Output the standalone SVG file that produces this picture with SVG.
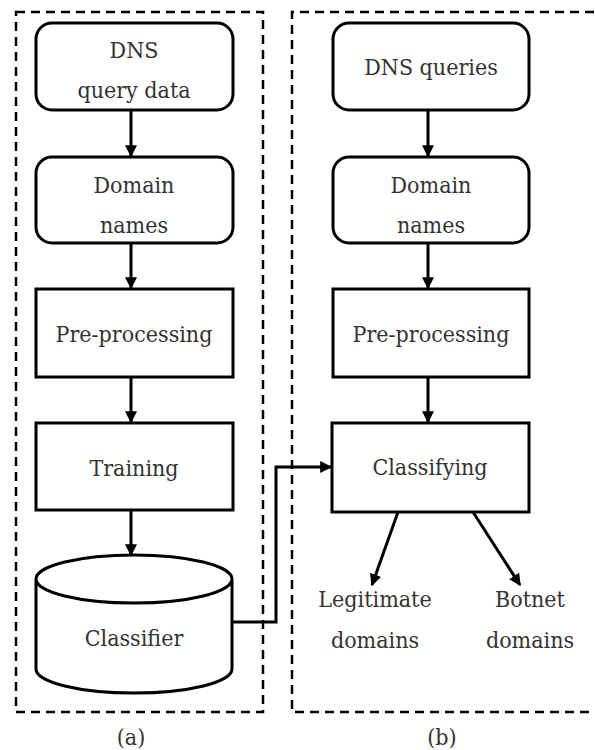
<svg xmlns="http://www.w3.org/2000/svg" width="595" height="750" viewBox="0 0 595 750">
<defs>
<style>
.box{fill:#fff;stroke:#000;stroke-width:3}
.dash{fill:none;stroke:#000;stroke-width:2.5;stroke-dasharray:9 6}
.ln{fill:none;stroke:#000;stroke-width:3}
.t{font-family:'DejaVu Serif',serif;font-stretch:condensed;font-size:23px;fill:#333;text-anchor:middle}
</style>
<marker id="ah" viewBox="0 0 10 10" refX="9" refY="5" markerWidth="4" markerHeight="4" orient="auto" markerUnits="strokeWidth">
<path d="M0,0 L10,5 L0,10 z" fill="#000"/>
</marker>
</defs>
<rect width="595" height="750" fill="#fff"/>
<g id="panel-a"><rect class="dash" x="16" y="12" width="247" height="700"/><text class="t" x="131" y="745">(a)</text></g>
<g id="panel-b"><path class="dash" d="M594,12 L292,12 L292,712 L594,712"/><text class="t" x="442" y="745">(b)</text></g>

<g id="connectors">
<line class="ln" x1="131" y1="110" x2="131" y2="156" marker-end="url(#ah)"/>
<line class="ln" x1="131" y1="243" x2="131" y2="288" marker-end="url(#ah)"/>
<line class="ln" x1="131" y1="377" x2="131" y2="422" marker-end="url(#ah)"/>
<line class="ln" x1="131" y1="510" x2="131" y2="555" marker-end="url(#ah)"/>
<line class="ln" x1="428" y1="110" x2="428" y2="156" marker-end="url(#ah)"/>
<line class="ln" x1="428" y1="243" x2="428" y2="288" marker-end="url(#ah)"/>
<line class="ln" x1="428" y1="377" x2="428" y2="422" marker-end="url(#ah)"/>
<polyline class="ln" points="233,622 276,622 276,467 331,467" marker-end="url(#ah)"/>
<line class="ln" x1="398" y1="512" x2="372" y2="585" marker-end="url(#ah)"/>
<line class="ln" x1="473" y1="512" x2="520" y2="585" marker-end="url(#ah)"/>
</g>

<g id="dns-query-data"><rect class="box" x="36" y="23" width="197" height="87" rx="16"/><text class="t" x="134" y="58">DNS</text><text class="t" x="134" y="98">query data</text></g>
<g id="domain-names-a"><rect class="box" x="36" y="157" width="197" height="86" rx="16"/><text class="t" x="134" y="193">Domain</text><text class="t" x="134" y="233">names</text></g>
<g id="preprocessing-a"><rect class="box" x="36" y="289" width="197" height="88"/><text class="t" x="134" y="342">Pre-processing</text></g>
<g id="training"><rect class="box" x="36" y="423" width="197" height="87"/><text class="t" x="134" y="476">Training</text></g>
<g id="classifier"><path class="box" d="M36,579 L36,669 A98,24 0 0 0 232,669 L232,579 A98,24 0 0 0 36,579 A98,24 0 0 0 232,579"/><text class="t" x="134" y="646">Classifier</text></g>

<g id="dns-queries"><rect class="box" x="333" y="23" width="196" height="87" rx="16"/><text class="t" x="431" y="75">DNS queries</text></g>
<g id="domain-names-b"><rect class="box" x="333" y="157" width="196" height="86" rx="16"/><text class="t" x="431" y="193">Domain</text><text class="t" x="431" y="233">names</text></g>
<g id="preprocessing-b"><rect class="box" x="333" y="289" width="196" height="88"/><text class="t" x="431" y="342">Pre-processing</text></g>
<g id="classifying"><rect class="box" x="332" y="423" width="197" height="89"/><text class="t" x="430" y="475">Classifying</text></g>
<g id="legitimate"><text class="t" x="375" y="607">Legitimate</text><text class="t" x="375" y="648">domains</text></g>
<g id="botnet"><text class="t" x="530" y="607">Botnet</text><text class="t" x="530" y="648">domains</text></g>
</svg>
